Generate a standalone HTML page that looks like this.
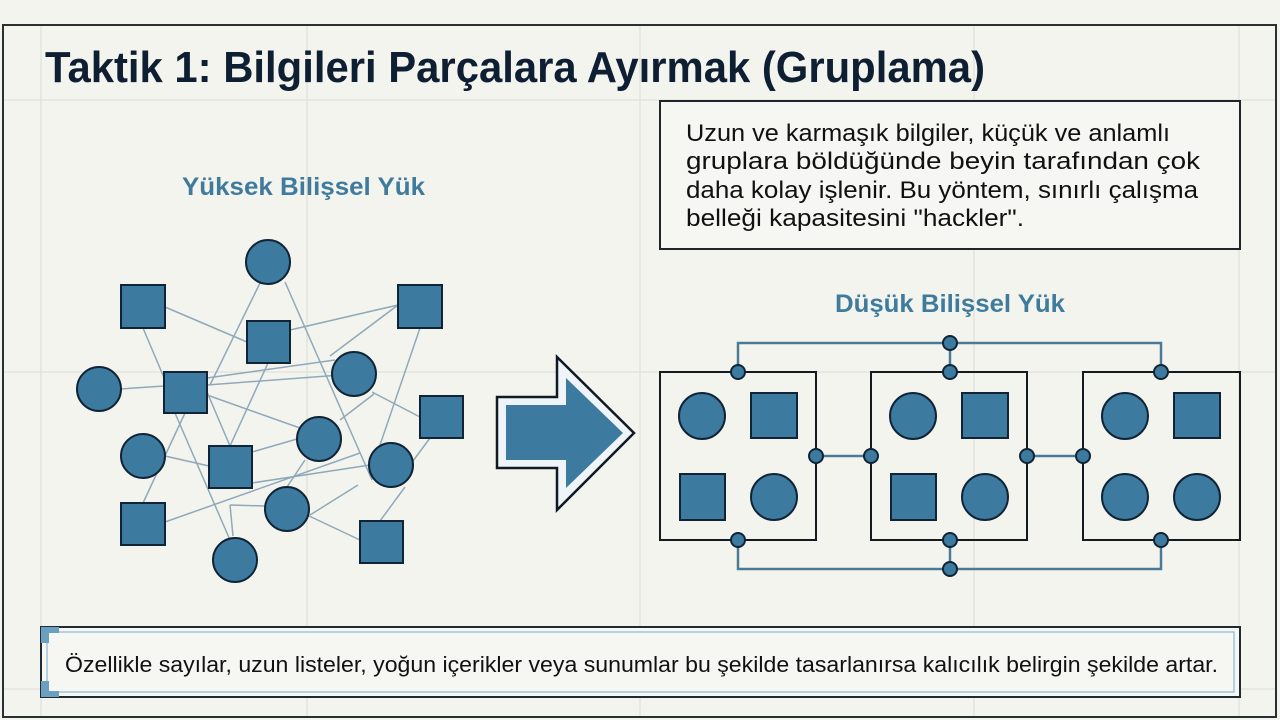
<!DOCTYPE html>
<html><head><meta charset="utf-8"><style>
html,body{margin:0;padding:0;background:#f4f4ef;}
svg{display:block}
</style></head><body>
<svg width="1280" height="720" viewBox="0 0 1280 720" xmlns="http://www.w3.org/2000/svg">
<rect width="1280" height="720" fill="#f4f4ef"/>
<g stroke="#e0e0da" stroke-width="1.2">
<line x1="41" y1="25" x2="41" y2="717"/><line x1="307" y1="25" x2="307" y2="717"/><line x1="640" y1="25" x2="640" y2="717"/><line x1="974" y1="25" x2="974" y2="717"/><line x1="1239" y1="25" x2="1239" y2="717"/>
<line x1="3" y1="100" x2="1277" y2="100"/><line x1="3" y1="372" x2="1277" y2="372"/><line x1="3" y1="689" x2="1277" y2="689"/>
</g>
<rect x="3" y="25" width="1273" height="692" fill="none" stroke="#2a2f35" stroke-width="2"/>
<text x="45" y="82" font-family="Liberation Sans, sans-serif" font-weight="bold" font-size="44" fill="#0f1f33" textLength="940" lengthAdjust="spacingAndGlyphs">Taktik 1: Bilgileri Parçalara Ayırmak (Gruplama)</text>
<text x="182" y="195" font-family="Liberation Sans, sans-serif" font-weight="bold" font-size="25" fill="#3f7b9d" textLength="243" lengthAdjust="spacingAndGlyphs">Yüksek Bilişsel Yük</text>
<text x="835" y="312" font-family="Liberation Sans, sans-serif" font-weight="bold" font-size="25" fill="#3f7b9d" textLength="230" lengthAdjust="spacingAndGlyphs">Düşük Bilişsel Yük</text>
<rect x="660" y="101" width="580" height="148" fill="#f6f6f2" stroke="#1f252b" stroke-width="2"/>
<g font-family="Liberation Sans, sans-serif" font-size="24" fill="#111">
<text x="686" y="141" textLength="484" lengthAdjust="spacingAndGlyphs">Uzun ve karmaşık bilgiler, küçük ve anlamlı</text>
<text x="686" y="169" textLength="514" lengthAdjust="spacingAndGlyphs">gruplara böldüğünde beyin tarafından çok</text>
<text x="686" y="198" textLength="512" lengthAdjust="spacingAndGlyphs">daha kolay işlenir. Bu yöntem, sınırlı çalışma</text>
<text x="686" y="226" textLength="338" lengthAdjust="spacingAndGlyphs">belleği kapasitesini "hackler".</text>
</g>
<g stroke="#8fa9ba" stroke-width="1.5" fill="none">
<line x1="165" y1="307" x2="247" y2="342"/><line x1="143" y1="328" x2="165" y2="380"/>
<line x1="260" y1="283" x2="210" y2="385"/><line x1="285" y1="282" x2="372" y2="480"/>
<line x1="290" y1="330" x2="398" y2="305"/><line x1="398" y1="305" x2="330" y2="356"/>
<line x1="120" y1="389" x2="164" y2="386"/><line x1="207" y1="385" x2="354" y2="374"/>
<line x1="207" y1="378" x2="335" y2="360"/><line x1="207" y1="395" x2="300" y2="428"/>
<line x1="268" y1="363" x2="230" y2="446"/><line x1="207" y1="392" x2="230" y2="446"/>
<line x1="185" y1="413" x2="143" y2="503"/><line x1="175" y1="413" x2="230" y2="540"/>
<line x1="165" y1="456" x2="209" y2="466"/><line x1="252" y1="452" x2="297" y2="439"/>
<line x1="374" y1="394" x2="340" y2="420"/><line x1="372" y1="392" x2="420" y2="417"/>
<line x1="420" y1="328" x2="380" y2="445"/><line x1="405" y1="487" x2="380" y2="521"/>
<line x1="430" y1="438" x2="410" y2="465"/><line x1="165" y1="522" x2="360" y2="453"/>
<line x1="252" y1="483" x2="370" y2="465"/><line x1="310" y1="515" x2="358" y2="485"/>
<line x1="307" y1="515" x2="360" y2="540"/><line x1="265" y1="506" x2="230" y2="505"/>
<line x1="230" y1="505" x2="233" y2="536"/><line x1="287" y1="487" x2="305" y2="460"/>
</g>
<g fill="#3c7aa0" stroke="#102436" stroke-width="2">
<circle cx="268" cy="262" r="22"/><circle cx="99" cy="389" r="22"/><circle cx="354" cy="374" r="22"/>
<circle cx="143" cy="456" r="22"/><circle cx="319" cy="439" r="22"/><circle cx="391" cy="465" r="22"/>
<circle cx="287" cy="509" r="22"/><circle cx="235" cy="560" r="22"/>
<rect x="121" y="285" width="44" height="43"/><rect x="247" y="321" width="43" height="42"/>
<rect x="398" y="285" width="44" height="43"/><rect x="164" y="372" width="43" height="41"/>
<rect x="420" y="396" width="43" height="42"/><rect x="209" y="446" width="43" height="42"/>
<rect x="121" y="503" width="44" height="42"/><rect x="360" y="521" width="43" height="42"/>
</g>
<polygon points="497,397 557,397 557,357 634,433 557,510 557,468 497,468" fill="#eef4f7" stroke="#0f1a24" stroke-width="2.5"/>
<polygon points="506,405 566,405 566,378 623,433 566,488 566,460 506,460" fill="#3c7aa0"/>
<g fill="none" stroke="#4a7a96" stroke-width="2.5">
<polyline points="738,372 738,343 1161,343 1161,372"/><line x1="950" y1="343" x2="950" y2="372"/>
<polyline points="738,540 738,569 1161,569 1161,540"/><line x1="950" y1="540" x2="950" y2="569"/>
<line x1="816" y1="456" x2="871" y2="456"/><line x1="1027" y1="456" x2="1083" y2="456"/>
</g>
<g fill="none" stroke="#141a20" stroke-width="2">
<rect x="660" y="372" width="156" height="168"/><rect x="871" y="372" width="156" height="168"/><rect x="1083" y="372" width="157" height="168"/>
</g>
<g fill="#3c7aa0" stroke="#102436" stroke-width="2">
<ellipse cx="702" cy="416" rx="23" ry="23"/><rect x="751" y="393" width="46" height="45"/>
<rect x="680" y="474" width="45" height="46"/><ellipse cx="774" cy="497" rx="23" ry="23"/>
<ellipse cx="913" cy="416" rx="23" ry="23"/><rect x="962" y="393" width="46" height="45"/>
<rect x="891" y="474" width="45" height="46"/><ellipse cx="985" cy="497" rx="23" ry="23"/>
<ellipse cx="1125" cy="416" rx="23" ry="23"/><rect x="1174" y="393" width="46" height="45"/>
<ellipse cx="1125" cy="497" rx="23" ry="23"/><ellipse cx="1197" cy="497" rx="23" ry="23"/>
<circle cx="950" cy="343" r="7"/><circle cx="738" cy="372" r="7"/><circle cx="950" cy="372" r="7"/><circle cx="1161" cy="372" r="7"/>
<circle cx="738" cy="540" r="7"/><circle cx="950" cy="540" r="7"/><circle cx="1161" cy="540" r="7"/><circle cx="950" cy="569" r="7"/>
<circle cx="816" cy="456" r="7"/><circle cx="871" cy="456" r="7"/><circle cx="1027" cy="456" r="7"/><circle cx="1083" cy="456" r="7"/>
</g>
<rect x="41" y="627" width="1199" height="70" fill="#f6f6f2" stroke="#1f2a33" stroke-width="2"/>
<rect x="47" y="632" width="1187" height="60" fill="none" stroke="#9fc4d8" stroke-width="1.5"/>
<path d="M41 627 h18 v6 h-10 v10 h-8z M41 697 h18 v-6 h-10 v-10 h-8z" fill="#6a9fbf"/>
<text x="65" y="672" font-family="Liberation Sans, sans-serif" font-size="22" fill="#111" textLength="1153" lengthAdjust="spacingAndGlyphs">Özellikle sayılar, uzun listeler, yoğun içerikler veya sunumlar bu şekilde tasarlanırsa kalıcılık belirgin şekilde artar.</text>
</svg>
</body></html>
